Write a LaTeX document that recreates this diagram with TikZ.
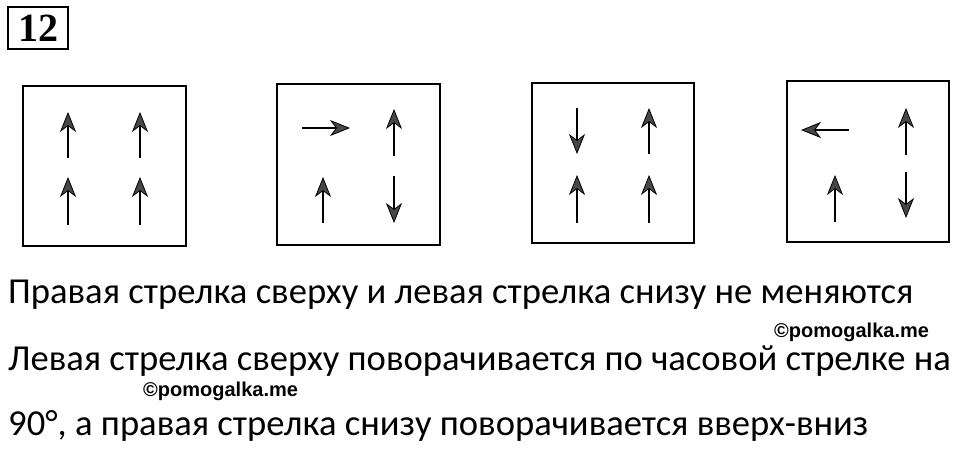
\documentclass[tikz,border=0pt]{standalone}
\usepackage{fontspec}
\newfontfamily\txtfont{Carlito}
\newfontfamily\wmfont{Liberation Sans}
\newfontfamily\badgefont{Liberation Serif}
\usetikzlibrary{arrows.meta}
\begin{document}
\begin{tikzpicture}[x=1pt,y=-1pt,
  frame/.style={draw=black,line width=1.5pt},
  arr/.style={draw=black,line width=1.3pt,-{Stealth[length=20pt,width=16pt,inset=6pt,fill=black!72,line width=0.8pt]}},
  line/.style={anchor=base west,inner sep=0pt,font=\txtfont\fontsize{36.6}{36.6}\selectfont},
  wm/.style={anchor=base west,inner sep=0pt,font=\wmfont\bfseries\fontsize{20}{20}\selectfont}]
\useasboundingbox (0,0) rectangle (960,450);
% badge
\node[draw=black,line width=2pt,minimum width=60pt,minimum height=42pt,inner sep=0pt,
  font=\badgefont\bfseries\fontsize{40}{40}\selectfont] (badge) at (38,28) {12};
% box 1
\draw[frame] (23,86) rectangle (186,246);
\draw[arr] (68,158) -- (68,112);
\draw[arr] (140,158) -- (140,112);
\draw[arr] (68,225) -- (68,177);
\draw[arr] (140,225) -- (140,177);
% box 2
\draw[frame] (277,84) rectangle (440,245);
\draw[arr] (302,128) -- (350,128);
\draw[arr] (394,156) -- (394,109);
\draw[arr] (323,223) -- (323,177);
\draw[arr] (394,176) -- (394,223);
% box 3
\draw[frame] (532,83) rectangle (694,243);
\draw[arr] (577,108) -- (577,154);
\draw[arr] (649,154) -- (649,108);
\draw[arr] (577,223) -- (577,175);
\draw[arr] (649,223) -- (649,175);
% box 4
\draw[frame] (787,81) rectangle (949,242);
\draw[arr] (849,130) -- (801,130);
\draw[arr] (906,155) -- (906,108);
\draw[arr] (835,222) -- (835,175);
\draw[arr] (906,172) -- (906,218);
% text
\node[line] (t1) at (8,303) {Правая стрелка сверху и левая стрелка снизу не меняются};
\node[wm] (w1) at (774,337) {©pomogalka.me};
\node[line] (t2) at (8,370) {Левая стрелка сверху поворачивается по часовой стрелке на};
\node[wm] (w2) at (143,396) {©pomogalka.me};
\node[line] (t3) at (8,435) {90°, а правая стрелка снизу поворачивается вверх-вниз};
\end{tikzpicture}
\end{document}
